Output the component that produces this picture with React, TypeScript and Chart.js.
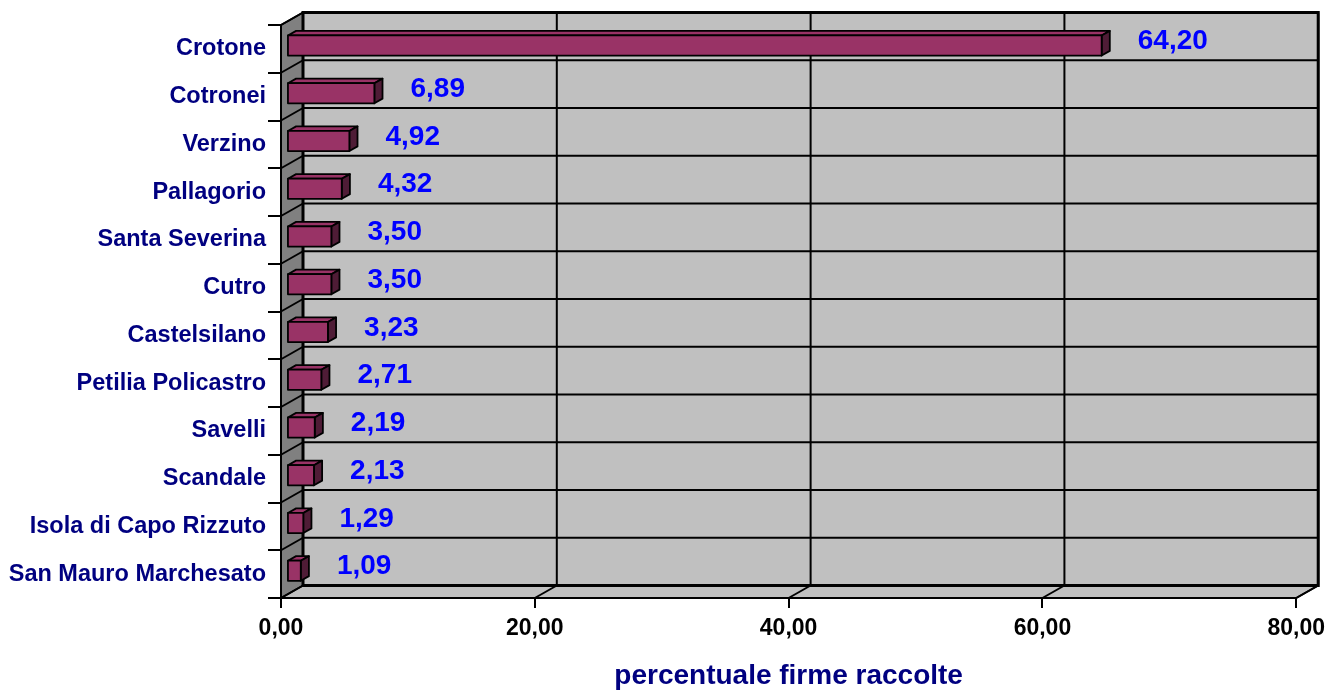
import React, { useEffect, useRef } from 'react';
import { Chart, registerables } from 'chart.js';

Chart.register(...registerables);

const categories = [
  'Crotone',
  'Cotronei',
  'Verzino',
  'Pallagorio',
  'Santa Severina',
  'Cutro',
  'Castelsilano',
  'Petilia Policastro',
  'Savelli',
  'Scandale',
  'Isola di Capo Rizzuto',
  'San Mauro Marchesato',
];
const values = [64.2, 6.89, 4.92, 4.32, 3.5, 3.5, 3.23, 2.71, 2.19, 2.13, 1.29, 1.09];
const xTicks = [0, 20, 40, 60, 80];
const axisTitle = 'percentuale firme raccolte';

const fmt = (v: number) => v.toFixed(2).replace('.', ',');

const FONT = "'Liberation Sans', Arial, sans-serif";
const DX = 22;
const DY = 12.5;
const FRONT = 0.27;
const BACK = 0.64;

function poly(ctx: CanvasRenderingContext2D, pts: number[][], fill: string | null, stroke: boolean) {
  ctx.beginPath();
  ctx.moveTo(pts[0][0], pts[0][1]);
  for (let i = 1; i < pts.length; i++) ctx.lineTo(pts[i][0], pts[i][1]);
  ctx.closePath();
  if (fill) {
    ctx.fillStyle = fill;
    ctx.fill();
  }
  if (stroke) ctx.stroke();
}

function seg(ctx: CanvasRenderingContext2D, x1: number, y1: number, x2: number, y2: number) {
  ctx.beginPath();
  ctx.moveTo(x1, y1);
  ctx.lineTo(x2, y2);
  ctx.stroke();
}

const threeD = {
  id: 'threeD',
  beforeDraw(chart: any) {
    const { ctx, chartArea } = chart;
    const L = chartArea.left, R = chartArea.right, T = chartArea.top, B = chartArea.bottom;
    const xs = chart.scales.x;
    const ys = chart.scales.y;
    ctx.save();
    ctx.fillStyle = '#c0c0c0';
    ctx.fillRect(L + DX, T - DY, R - L, B - T);
    poly(ctx, [[L, T], [L + DX, T - DY], [L + DX, B - DY], [L, B]], '#808080', false);
    poly(ctx, [[L, B], [L + DX, B - DY], [R + DX, B - DY], [R, B]], '#c0c0c0', false);

    ctx.strokeStyle = '#000';
    ctx.lineWidth = 2;
    const step = ys.getPixelForValue(1) - ys.getPixelForValue(0);
    const first = ys.getPixelForValue(0) - step / 2;
    for (let i = 0; i <= categories.length; i++) {
      const yb = first + i * step;
      seg(ctx, L + DX, yb - DY, R + DX, yb - DY);
      seg(ctx, L, yb, L + DX, yb - DY);
    }
    for (const t of xTicks) {
      const xp = xs.getPixelForValue(t);
      seg(ctx, xp + DX, T - DY, xp + DX, B - DY);
      seg(ctx, xp, B, xp + DX, B - DY);
    }
    ctx.lineWidth = 3;
    ctx.strokeRect(L + DX, T - DY, R - L, B - T);
    ctx.lineWidth = 2;
    seg(ctx, L, T, L + DX, T - DY);
    seg(ctx, R, B, R + DX, B - DY);
    ctx.restore();
  },
  afterDatasetsDraw(chart: any) {
    const { ctx } = chart;
    const meta = chart.getDatasetMeta(0);
    const data = chart.data.datasets[0].data as number[];
    const fx = DX * FRONT;
    const fy = DY * FRONT;
    const ddx = DX * (BACK - FRONT);
    const ddy = DY * (BACK - FRONT);
    ctx.save();
    ctx.strokeStyle = '#000';
    ctx.lineWidth = 1.8;
    ctx.lineJoin = 'round';
    meta.data.forEach((el: any, i: number) => {
      const { x, y, base, height } = el.getProps(['x', 'y', 'base', 'height'], true);
      const x0 = base + fx;
      const x1 = x + fx;
      const yt = y - height / 2 - fy;
      const yb = y + height / 2 - fy;
      poly(ctx, [[x0, yt], [x0 + ddx, yt - ddy], [x1 + ddx, yt - ddy], [x1, yt]], '#993366', true);
      poly(ctx, [[x1, yt], [x1 + ddx, yt - ddy], [x1 + ddx, yb - ddy], [x1, yb]], '#4f1c36', true);
      poly(ctx, [[x0, yt], [x1, yt], [x1, yb], [x0, yb]], '#993366', true);

      ctx.fillStyle = '#0000ff';
      ctx.font = `bold 28px ${FONT}`;
      ctx.textAlign = 'left';
      ctx.textBaseline = 'middle';
      ctx.fillText(fmt(data[i]), x1 + ddx + 28, y - fy - 4);
    });
    ctx.restore();
  },
};

export default function App() {
  const canvasRef = useRef<HTMLCanvasElement | null>(null);

  useEffect(() => {
    document.body.style.margin = '0';
    const canvas = canvasRef.current;
    if (!canvas) return;
    const chart = new Chart(canvas, {
      type: 'bar',
      data: {
        labels: categories,
        datasets: [
          {
            data: values,
            backgroundColor: 'rgba(0,0,0,0)',
            borderWidth: 0,
            barPercentage: 0.42,
            categoryPercentage: 1,
          },
        ],
      },
      options: {
        indexAxis: 'y',
        responsive: false,
        animation: false,
        devicePixelRatio: 1,
        layout: { padding: { top: 25, right: 32, left: 0, bottom: 0 } },
        plugins: {
          legend: { display: false },
          tooltip: { enabled: false },
        },
        scales: {
          x: {
            type: 'linear',
            min: 0,
            max: 80,
            afterFit: (s: any) => {
              s.height = 95;
            },
            ticks: {
              stepSize: 20,
              color: '#000',
              padding: 7,
              font: { family: FONT, size: 23, weight: 'bold' },
              callback: (v: any) => fmt(Number(v)),
            },
            grid: {
              drawOnChartArea: false,
              tickLength: 10,
              color: '#000',
              lineWidth: 2,
            },
            border: { color: '#000', width: 2 },
            title: {
              display: true,
              text: axisTitle,
              color: '#000080',
              font: { family: FONT, size: 28, weight: 'bold' },
              padding: { top: 0, bottom: 0 },
            },
          },
          y: {
            afterFit: (s: any) => {
              s.width = 281;
            },
            ticks: {
              color: '#000080',
              padding: 2,
              font: { family: FONT, size: 23.5, weight: 'bold' },
            },
            grid: {
              drawOnChartArea: false,
              tickLength: 13,
              color: '#000',
              lineWidth: 2,
            },
            border: { color: '#000', width: 2 },
          },
        },
      } as any,
      plugins: [threeD],
    });
    return () => chart.destroy();
  }, []);

  return (
    <div style={{ width: 1332, height: 693 }}>
      <canvas ref={canvasRef} width={1332} height={693} style={{ display: 'block' }} />
    </div>
  );
}
